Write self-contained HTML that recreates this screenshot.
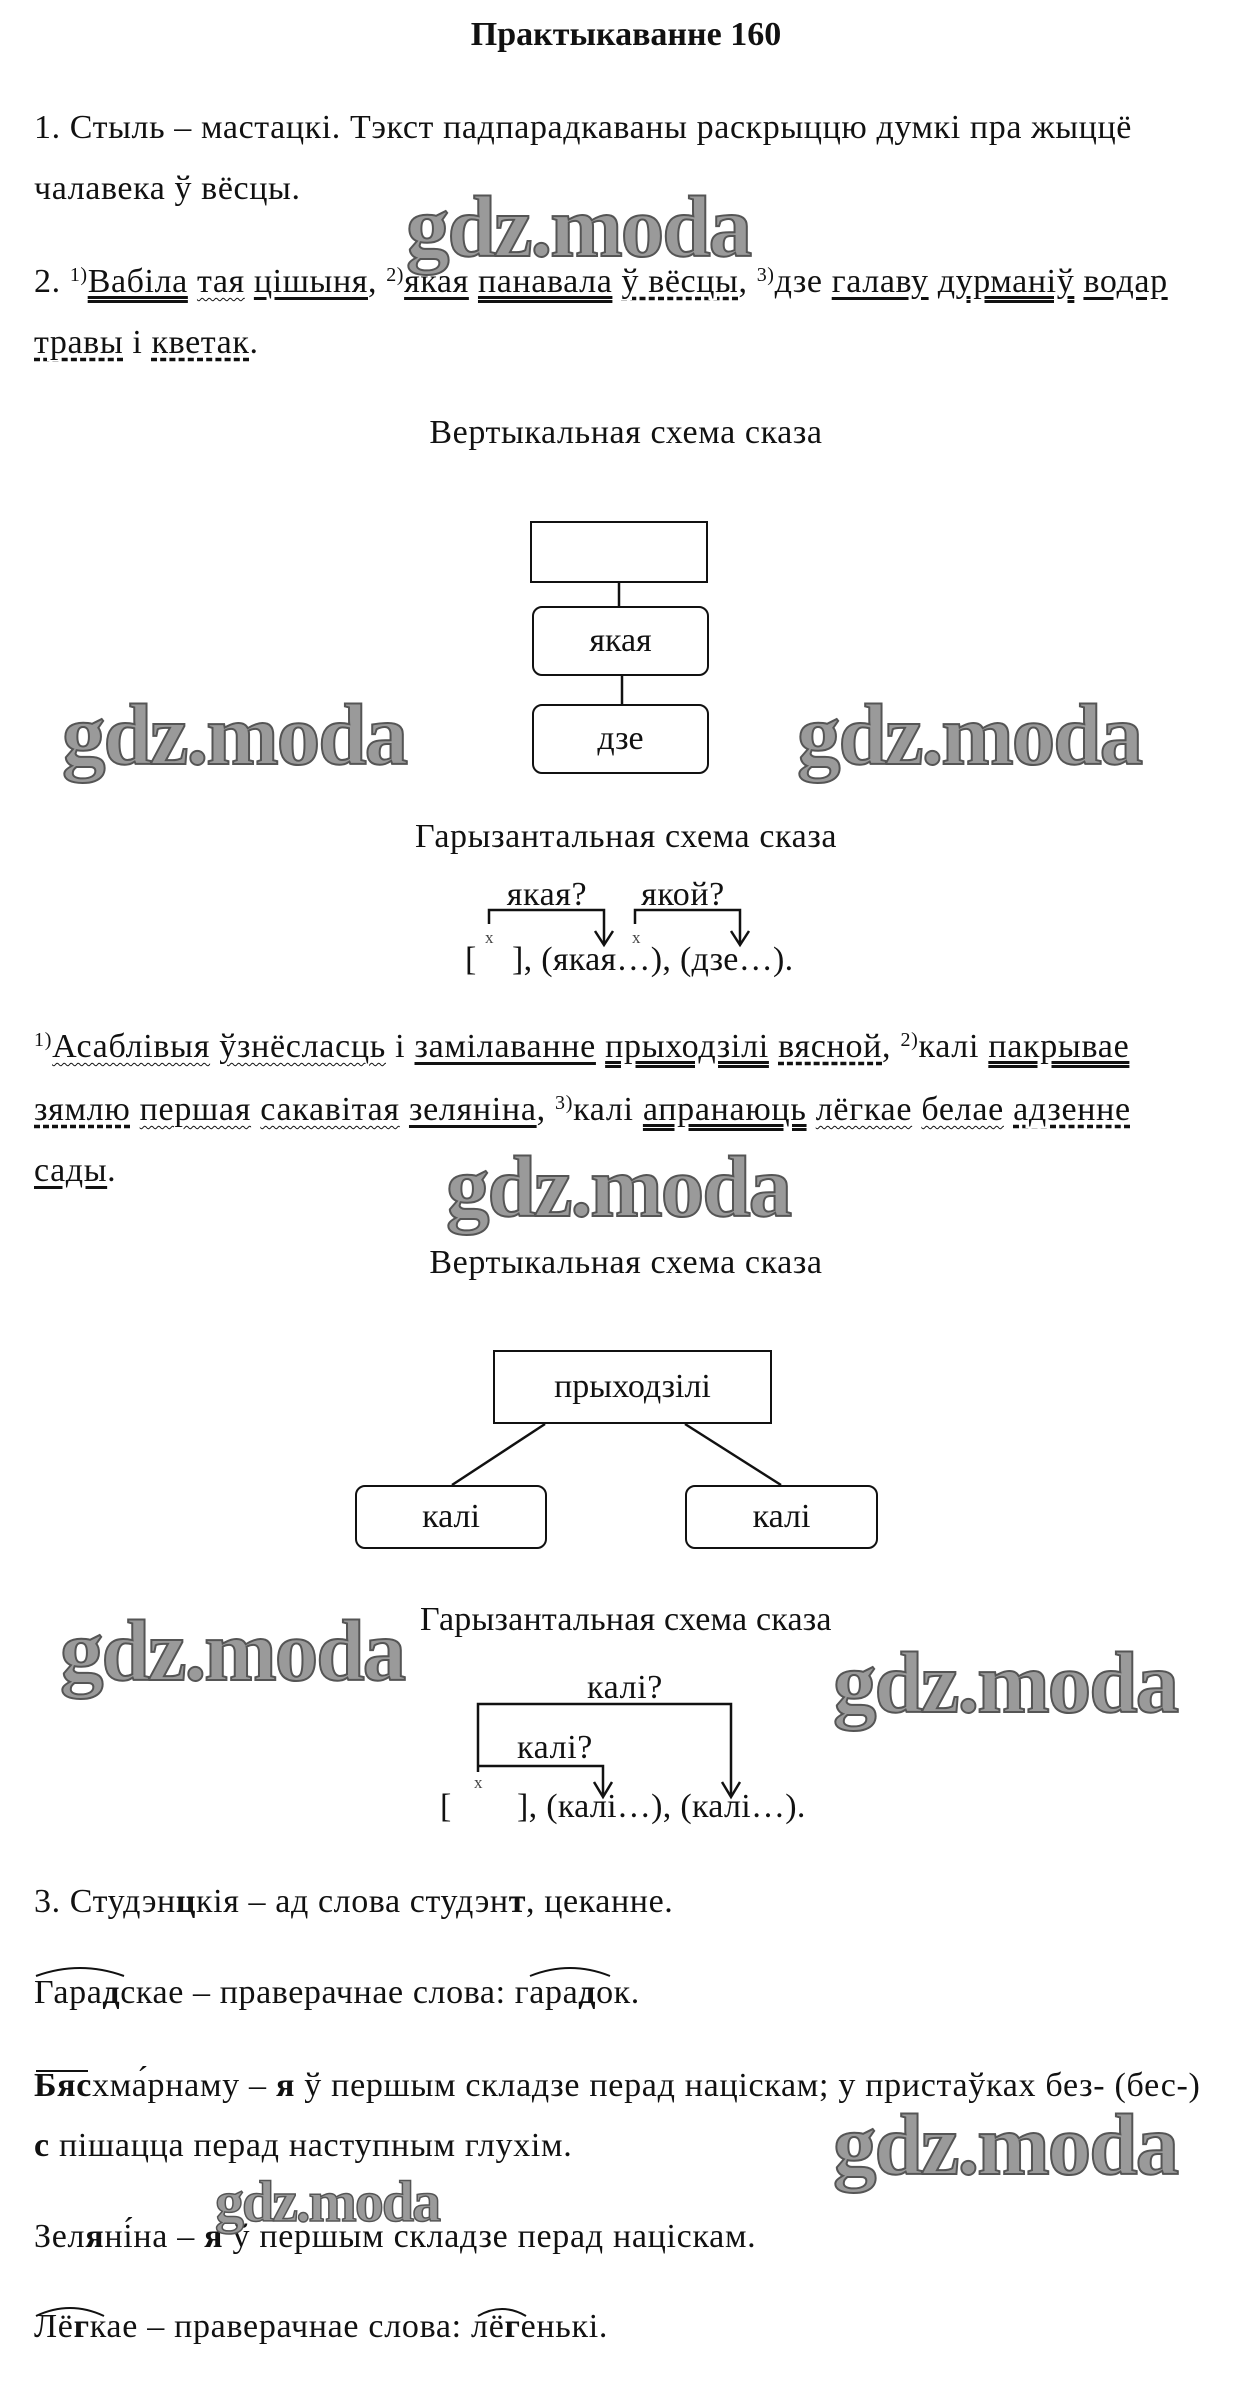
<!DOCTYPE html>
<html><head><meta charset="utf-8">
<style>
body{margin:0;width:1243px;height:2406px;background:#fff;position:relative;overflow:hidden;font-family:"Liberation Serif","DejaVu Serif",serif;color:#111;}
.t{position:absolute;font-size:34px;line-height:34px;white-space:nowrap;letter-spacing:0.6px;}
.c{text-align:center;}
.wm{position:absolute;font-family:"Liberation Serif",serif;font-weight:bold;font-size:87px;line-height:90px;color:#9a9a9a;-webkit-text-stroke:2px #555;letter-spacing:-2px;white-space:nowrap;}
.box{position:absolute;border:2.5px solid #111;box-sizing:border-box;display:flex;align-items:center;justify-content:center;font-size:34px;}
.r{border-radius:10px;}
sup{font-size:20px;vertical-align:top;line-height:20px;}
.u1{text-decoration:underline;text-underline-offset:5px;}
.u2{text-decoration:underline double;text-underline-offset:4px;}
.uw{text-decoration:underline wavy;text-underline-offset:5px;text-decoration-thickness:1px;}
.ud{text-decoration:underline dashed;text-underline-offset:5px;}
svg{position:absolute;left:0;top:0;}
.xm{position:absolute;font-size:17px;line-height:17px;color:#444;}
</style></head><body>

<div class="t c" style="left:326px;width:600px;top:18px;font-weight:bold;letter-spacing:0;">Практыкаванне 160</div>

<div class="t" style="left:34px;top:111px;letter-spacing:0.6px;">1. Стыль – мастацкі. Тэкст падпарадкаваны раскрыццю думкі пра жыццё</div>
<div class="t" style="left:34px;top:172px;letter-spacing:0.6px;">чалавека ў вёсцы.</div>

<div class="t" style="left:34px;top:265px;letter-spacing:0.6px;">2. <sup>1)</sup><span class="u2">Вабіла</span> <span class="uw">тая</span> <span class="u1">цішыня</span>, <sup>2)</sup><span class="u1">якая</span> <span class="u2">панавала</span> <span class="ud">ў вёсцы</span>, <sup>3)</sup>дзе <span class="u1">галаву</span> <span class="u2">дурманіў</span> <span class="u1">водар</span></div>
<div class="t" style="left:34px;top:326px;"><span class="ud">травы</span> і <span class="ud">кветак</span>.</div>

<div class="t c" style="left:326px;width:600px;top:416px;">Вертыкальная схема сказа</div>

<div class="box" style="left:530px;top:521px;width:178px;height:62px;"></div>
<div class="box r" style="left:532px;top:606px;width:177px;height:70px;">якая</div>
<div class="box r" style="left:532px;top:704px;width:177px;height:70px;">дзе</div>

<div class="t c" style="left:326px;width:600px;top:820px;">Гарызантальная схема сказа</div>

<div class="t c" style="left:487px;width:120px;top:878px;">якая?</div>
<div class="t c" style="left:623px;width:120px;top:878px;">якой?</div>
<div class="t" style="left:465px;top:943px;">[</div>
<div class="t" style="left:512px;top:943px;letter-spacing:0.3px;">], (якая…), (дзе…).</div>

<div class="t" style="left:34px;top:1030px;letter-spacing:0.7px;"><sup>1)</sup><span class="uw">Асаблівыя</span> <span class="uw">ўзнёсласць</span> і <span class="u1">замілаванне</span> <span class="u2">прыходзілі</span> <span class="ud">вясной</span>, <sup>2)</sup>калі <span class="u2">пакрывае</span></div>
<div class="t" style="left:34px;top:1093px;letter-spacing:0.7px;"><span class="ud">зямлю</span> <span class="uw">першая</span> <span class="uw">сакавітая</span> <span class="u1">зеляніна</span>, <sup>3)</sup>калі <span class="u2">апранаюць</span> <span class="uw">лёгкае</span> <span class="uw">белае</span> <span class="ud">адзенне</span></div>
<div class="t" style="left:34px;top:1154px;"><span class="u1">сады</span>.</div>

<div class="t c" style="left:326px;width:600px;top:1246px;">Вертыкальная схема сказа</div>

<div class="box" style="left:493px;top:1350px;width:279px;height:74px;">прыходзілі</div>
<div class="box r" style="left:355px;top:1485px;width:192px;height:64px;">калі</div>
<div class="box r" style="left:685px;top:1485px;width:193px;height:64px;">калі</div>

<div class="t" style="left:420px;top:1603px;letter-spacing:0.2px;">Гарызантальная схема сказа</div>
<div class="t c" style="left:565px;width:120px;top:1671px;">калі?</div>
<div class="t c" style="left:495px;width:120px;top:1731px;">калі?</div>
<div class="t" style="left:440px;top:1790px;">[</div>
<div class="t" style="left:517px;top:1790px;letter-spacing:0.3px;">], (калі…), (калі…).</div>

<div class="t" style="left:34px;top:1885px;">3. Студэн<b>ц</b>кія – ад слова студэн<b>т</b>, цеканне.</div>
<div class="t" style="left:34px;top:1976px;">Гара<b>д</b>скае – праверачнае слова: гара<b>д</b>ок.</div>
<div class="t" style="left:34px;top:2069px;letter-spacing:0.7px;"><b>Бяс</b>хма́рнаму – <b>я</b> ў першым складзе перад націскам; у пристаўках без- (бес-)</div>
<div class="t" style="left:34px;top:2129px;letter-spacing:0.7px;"><b>с</b> пішацца перад наступным глухім.</div>
<div class="t" style="left:34px;top:2220px;letter-spacing:0.7px;">Зел<b>я</b>ні́на – <b>я</b> ў першым складзе перад націскам.</div>
<div class="t" style="left:34px;top:2310px;letter-spacing:0.7px;">Лё<b>г</b>кае – праверачнае слова: лё<b>г</b>енькі.</div>

<svg width="1243" height="2406" viewBox="0 0 1243 2406" fill="none" stroke="#111" stroke-width="2.5">
  <line x1="619" y1="583" x2="619" y2="606"/>
  <line x1="622" y1="676" x2="622" y2="704"/>
  <polyline points="489,924 489,910 604,910 604,944"/>
  <polyline points="595,931 604,945 613,931"/>
  <polyline points="635,924 635,910 740,910 740,944"/>
  <polyline points="731,931 740,945 749,931"/>
  <line x1="545" y1="1424" x2="452" y2="1485"/>
  <line x1="685" y1="1424" x2="781" y2="1485"/>
  <polyline points="478,1772 478,1704 731,1704 731,1796"/>
  <polyline points="722,1782 731,1797 740,1782"/>
  <polyline points="478,1766 603,1766 603,1796"/>
  <polyline points="594,1782 603,1797 612,1782"/>
  <path d="M36,1976 Q80,1960 124,1976" stroke-width="2"/>
  <path d="M530,1976 Q570,1960 610,1976" stroke-width="2"/>
  <line x1="36" y1="2071" x2="88" y2="2071" stroke-width="2"/>
  <path d="M36,2316 Q70,2300 104,2316" stroke-width="2"/>
  <path d="M478,2316 Q502,2302 526,2316" stroke-width="2"/>
</svg>
<div class="xm" style="left:485px;top:929px;">x</div>
<div class="xm" style="left:632px;top:929px;">x</div>
<div class="xm" style="left:474px;top:1774px;">x</div>

<div class="wm" style="left:406px;top:182px;">gdz.moda</div>
<div class="wm" style="left:62px;top:690px;">gdz.moda</div>
<div class="wm" style="left:797px;top:690px;">gdz.moda</div>
<div class="wm" style="left:446px;top:1142px;">gdz.moda</div>
<div class="wm" style="left:60px;top:1606px;">gdz.moda</div>
<div class="wm" style="left:833px;top:1638px;">gdz.moda</div>
<div class="wm" style="left:833px;top:2100px;">gdz.moda</div>
<div class="wm" style="left:215px;top:2172px;font-size:58px;line-height:60px;-webkit-text-stroke:1.5px #555;">gdz.moda</div>
</body></html>
